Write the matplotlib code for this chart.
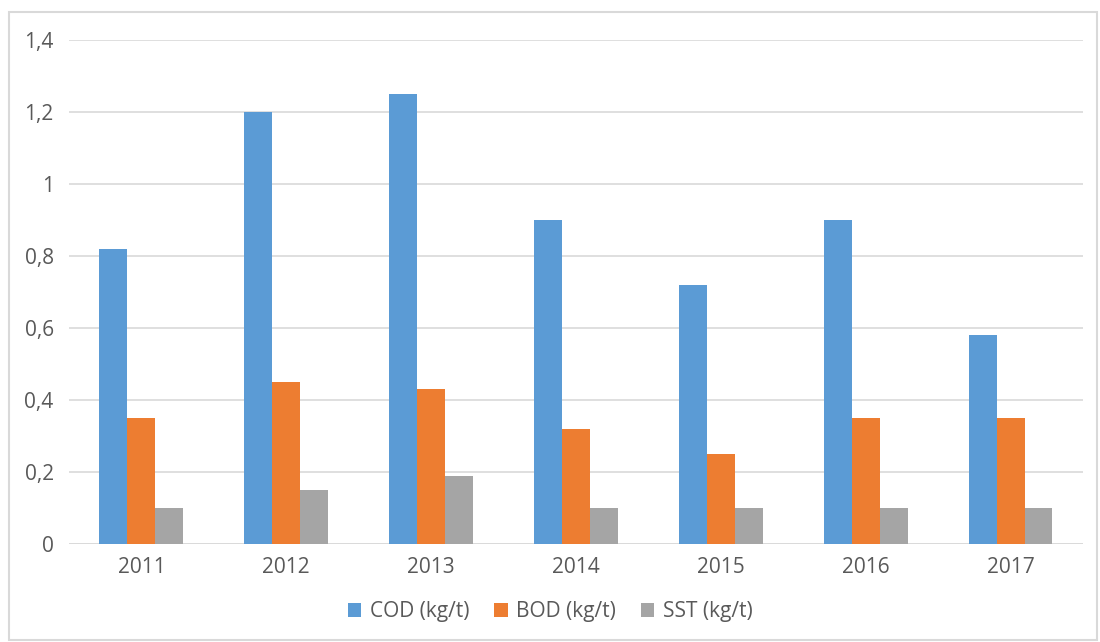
import numpy as np
import matplotlib
matplotlib.use('Agg')
import matplotlib.pyplot as plt
from matplotlib.patches import Rectangle

# Data
years = ['2011', '2012', '2013', '2014', '2015', '2016', '2017']
cod = [0.82, 1.20, 1.25, 0.90, 0.72, 0.90, 0.58]
bod = [0.35, 0.45, 0.43, 0.32, 0.25, 0.35, 0.35]
sst = [0.10, 0.15, 0.19, 0.10, 0.10, 0.10, 0.10]
series_names = ['COD (kg/t)', 'BOD (kg/t)', 'SST (kg/t)']
y_ticks = [0, 0.2, 0.4, 0.6, 0.8, 1.0, 1.2, 1.4]
y_labels = ['0', '0,2', '0,4', '0,6', '0,8', '1', '1,2', '1,4']

colors = ['#5B9BD5', '#ED7D31', '#A5A5A5']
text_color = '#595959'
grid_color = '#D9D9D9'

plt.rcParams['font.family'] = ['Open Sans', 'DejaVu Sans']

fig = plt.figure(figsize=(11, 6.42), dpi=100)
ax = fig.add_axes([0.0627, 0.1526, 0.9218, 0.7851])

x = np.arange(len(years))
w = 0.193
for i, (vals, name) in enumerate(zip([cod, bod, sst], series_names)):
    ax.bar(x + (i - 1) * w, vals, width=w, color=colors[i], label=name, zorder=3)

ax.set_xlim(-0.5, len(years) - 0.5)
ax.set_ylim(0, 1.4)
ax.set_yticks(y_ticks)
ax.set_yticklabels(y_labels)
ax.set_xticks(x)
ax.set_xticklabels(years)
ax.yaxis.grid(True, color=grid_color, linewidth=1.2, zorder=0)
ax.tick_params(axis='both', length=0, labelsize=15, colors=text_color)
ax.tick_params(axis='x', pad=9)
ax.tick_params(axis='y', pad=11)
for s in ax.spines.values():
    s.set_visible(False)
ax.axhline(0, color=grid_color, linewidth=1.2, zorder=2)

leg = fig.legend(loc='center', bbox_to_anchor=(0.5, 0.047), ncol=3, frameon=False,
                 fontsize=15, handlelength=0.65, handleheight=0.65, columnspacing=1.2,
                 handletextpad=0.4)
for t in leg.get_texts():
    t.set_color(text_color)

# outer chart border
fig.patches.append(Rectangle((9 / 1100, 2 / 642), 1088 / 1100, 628 / 642,
                             transform=fig.transFigure, fill=False,
                             edgecolor='#D9D9D9', linewidth=1.5))

fig.savefig('out.png', dpi=100)
